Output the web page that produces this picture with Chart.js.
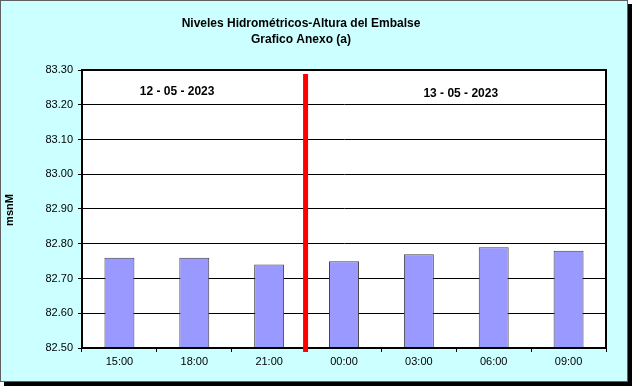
<!DOCTYPE html>
<html>
<head>
<meta charset="utf-8">
<script src="https://cdn.jsdelivr.net/npm/chart.js@4/dist/chart.umd.min.js"></script>
<style>
    body { margin: 0; background: #ffffff; }
    #frame {
        position: absolute; left: 0; top: 0;
        width: 626px; height: 380px;
        background: #ccffff;
        border: 1px solid #606060;
        box-shadow: 4px 4px 0 #000000;
    }
    #wrap { position: absolute; left: 0; top: 0; width: 633px; height: 387px; }
</style>
</head>
<body>
<div id="frame"></div>
<div id="wrap"><canvas id="chart" width="633" height="387"></canvas></div>
<script>
// data
var horas = ['15:00', '18:00', '21:00', '00:00', '03:00', '06:00', '09:00'];
var alturas = [82.76, 82.76, 82.74, 82.75, 82.77, 82.79, 82.78];
var fechas = ['12 - 05 - 2023', '13 - 05 - 2023'];
var titulo = ['Niveles Hidrométricos-Altura del Embalse', 'Grafico Anexo (a)'];
var ejeY = 'msnM';
var cambioDia = 2.5; // between 21:00 and 00:00

var fontName = "Arial, 'Liberation Sans', sans-serif";

// white plot background
var fondo = {
    id: 'fondo',
    beforeDraw: function (chart) {
        var a = chart.chartArea;
        chart.ctx.save();
        chart.ctx.fillStyle = '#ffffff';
        chart.ctx.fillRect(a.left, a.top, a.right - a.left, a.bottom - a.top);
        chart.ctx.restore();
    }
};

// title, y label, date labels and the red day divider
var extras = {
    id: 'extras',
    afterDraw: function (chart) {
        var ctx = chart.ctx;
        var area = chart.chartArea;
        var x = chart.scales.x;

        ctx.save();
        // plot border
        ctx.strokeStyle = '#000000';
        ctx.lineWidth = 2;
        ctx.strokeRect(area.left, area.top, area.right - area.left, area.bottom - area.top);

        ctx.fillStyle = '#000000';
        ctx.textAlign = 'center';
        ctx.textBaseline = 'middle';
        ctx.font = 'bold 12px ' + fontName;
        ctx.fillText(titulo[0], 301, 24);
        ctx.fillText(titulo[1], 301, 40);

        ctx.fillText(fechas[0], x.getPixelForValue(0.77), 92);
        ctx.fillText(fechas[1], x.getPixelForValue(4.56), 94);

        ctx.save();
        ctx.translate(10, 210);
        ctx.rotate(-Math.PI / 2);
        ctx.font = 'bold 11px ' + fontName;
        ctx.fillText(ejeY, 0, 0);
        ctx.restore();

        // red divider
        var px = x.getPixelForValue(cambioDia) - 1;
        ctx.strokeStyle = '#ff0000';
        ctx.lineWidth = 5;
        ctx.beginPath();
        ctx.moveTo(px, area.top + 4);
        ctx.lineTo(px, area.bottom + 4);
        ctx.stroke();
        ctx.restore();
    }
};

var config = {
    type: 'bar',
    data: {
        labels: horas,
        datasets: [{
            data: alturas,
            backgroundColor: '#9999ff',
            borderColor: '#404040',
            borderWidth: 1,
            borderSkipped: 'bottom',
            barPercentage: 0.4,
            categoryPercentage: 1.0
        }]
    },
    options: {
        responsive: false,
        animation: false,
        layout: { padding: { left: 0, top: 70, right: 27, bottom: 0 } },
        plugins: {
            legend: { display: false },
            title: { display: false },
            tooltip: { enabled: false }
        },
        scales: {
            x: {
                offset: true,
                grid: {
                    offset: true,
                    drawOnChartArea: false,
                    drawTicks: true,
                    tickLength: 4,
                    color: '#000000'
                },
                border: { color: '#000000', width: 2 },
                ticks: {
                    color: '#000000',
                    font: { family: fontName, size: 11 },
                    padding: 3,
                    maxRotation: 0
                },
                afterFit: function (scale) { scale.height = 39; }
            },
            y: {
                min: 82.5,
                max: 83.3,
                grid: {
                    color: '#000000',
                    lineWidth: 1,
                    drawTicks: true,
                    tickLength: 4
                },
                border: { color: '#000000', width: 2 },
                ticks: {
                    stepSize: 0.1,
                    color: '#000000',
                    font: { family: fontName, size: 11 },
                    padding: 5,
                    callback: function (v) { return Number(v).toFixed(2); }
                },
                afterFit: function (scale) { scale.width = 82; }
            }
        }
    },
    plugins: [fondo, extras]
};

var ctx = document.getElementById('chart').getContext('2d');
window.myBar = new Chart(ctx, config);
</script>
</body>
</html>
